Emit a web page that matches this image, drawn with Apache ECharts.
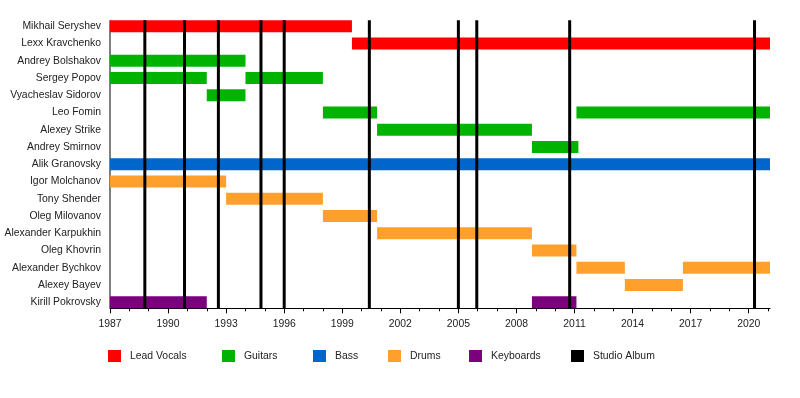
<!DOCTYPE html>
<html><head><meta charset="utf-8">
<script src="https://cdn.jsdelivr.net/npm/echarts@6/dist/echarts.min.js"></script>
<style>html,body{margin:0;padding:0;background:#fff}#c{width:800px;height:398px}</style>
</head><body><div id="c"></div>
<script>
var members = ['Mikhail Seryshev','Lexx Kravchenko','Andrey Bolshakov','Sergey Popov','Vyacheslav Sidorov','Leo Fomin','Alexey Strike','Andrey Smirnov','Alik Granovsky','Igor Molchanov','Tony Shender','Oleg Milovanov','Alexander Karpukhin','Oleg Khovrin','Alexander Bychkov','Alexey Bayev','Kirill Pokrovsky'];
var endYear = 2021.1;
// [member index, start, end]
var vocals = [[0,1987,1999.5],[1,1999.5,endYear]];
var guitars = [[2,1987,1994.0],[3,1987,1992.0],[3,1994.0,1998.0],[4,1992.0,1994.0],[5,1998.0,2000.8],[5,2011.1,endYear],[6,2000.8,2008.8],[7,2008.8,2011.2]];
var bass = [[8,1987,endYear]];
var drums = [[9,1987,1993.0],[10,1993.0,1998.0],[11,1998.0,2000.8],[12,2000.8,2008.8],[13,2008.8,2011.1],[14,2011.1,2013.6],[14,2016.6,endYear],[15,2013.6,2016.6]];
var keyboards = [[16,1987,1992.0],[16,2008.8,2011.1]];
var albums = [1988.8,1990.85,1992.6,1994.8,1996.0,2000.4,2005.0,2005.95,2010.75,2020.3];
var tickLabels = [1987,1990,1993,1996,1999,2002,2005,2008,2011,2014,2017,2020];
var roles = ['Lead Vocals','Guitars','Bass','Drums','Keyboards','Studio Album'];
var roleColors = ['#ff0000','#00b300','#0066cc','#ffa02c','#7a007e','#000000'];
var yearTicks = [];
for (var y = 1987; y <= 2021; y++) yearTicks.push(y);

var BAR_H = 12;
function renderBar(params, api){
  var s = api.coord([api.value(1), api.value(0)]);
  var e = api.coord([api.value(2), api.value(0)]);
  return {type:'rect', shape:{x:s[0], y:s[1]-BAR_H/2, width:e[0]-s[0], height:BAR_H}, style:{fill:api.visual('color')}};
}
function renderVLine(w){
  return function(params, api){
    var t = api.coord([api.value(0), 0]);
    var b = api.coord([api.value(0), members.length-1]);
    return {type:'line', shape:{x1:t[0], y1:t[1]-BAR_H/2, x2:t[0], y2:b[1]+BAR_H/2}, style:{stroke:'#000', lineWidth:w}};
  };
}
function barSeries(i, data){
  return {name:roles[i], type:'custom', renderItem:renderBar, itemStyle:{color:roleColors[i]}, encode:{x:[1,2], y:0}, data:data, z:3};
}
var legendLeft = [108,222,313,388,469,571];
var legends = roles.map(function(r,i){
  return {left:legendLeft[i]-5, top:345, icon:'rect', itemWidth:13, itemHeight:12,
    textStyle:{color:'#222', fontSize:10.4, padding:[4,0,0,4]}, data:[r]};
});
var chart = echarts.init(document.getElementById('c'), null, {renderer:'canvas'});
chart.setOption({
  animation:false,
  textStyle:{fontFamily:'Liberation Sans, Arial, sans-serif'},
  grid:{left:110, right:30, top:17.7, bottom:87.1, outerBoundsMode:'none'},
  xAxis:[
    {type:'value', min:1987, max:endYear, offset:-2.6,
     axisLine:{show:true, lineStyle:{color:'#000', width:1}},
     axisTick:{show:true, customValues:tickLabels, length:5, lineStyle:{color:'#000'}},
     axisLabel:{customValues:tickLabels, color:'#222', fontSize:10.4, margin:11, formatter:function(v){return String(v);}},
     splitLine:{show:false}},
    {type:'value', min:1987, max:endYear, offset:-2.6, position:'bottom',
     axisLine:{show:false},
     axisTick:{show:true, customValues:yearTicks, length:3, lineStyle:{color:'#000'}},
     axisLabel:{show:false}, splitLine:{show:false}}
  ],
  yAxis:{type:'category', inverse:true, data:members,
    axisLine:{show:false}, axisTick:{show:false},
    axisLabel:{color:'#222', fontSize:10.4, margin:9}},
  legend:legends,
  series:[
    barSeries(0,vocals),
    barSeries(1,guitars),
    barSeries(2,bass),
    barSeries(3,drums),
    barSeries(4,keyboards),
    {name:roles[5], type:'custom', renderItem:renderVLine(3), itemStyle:{color:roleColors[5]}, encode:{x:0}, data:albums.map(function(a){return [a];}), z:4},
    {name:'axis', type:'custom', renderItem:renderVLine(1), itemStyle:{color:'#000'}, encode:{x:0}, data:[[1987]], z:2, silent:true}
  ]
});
</script></body></html>
